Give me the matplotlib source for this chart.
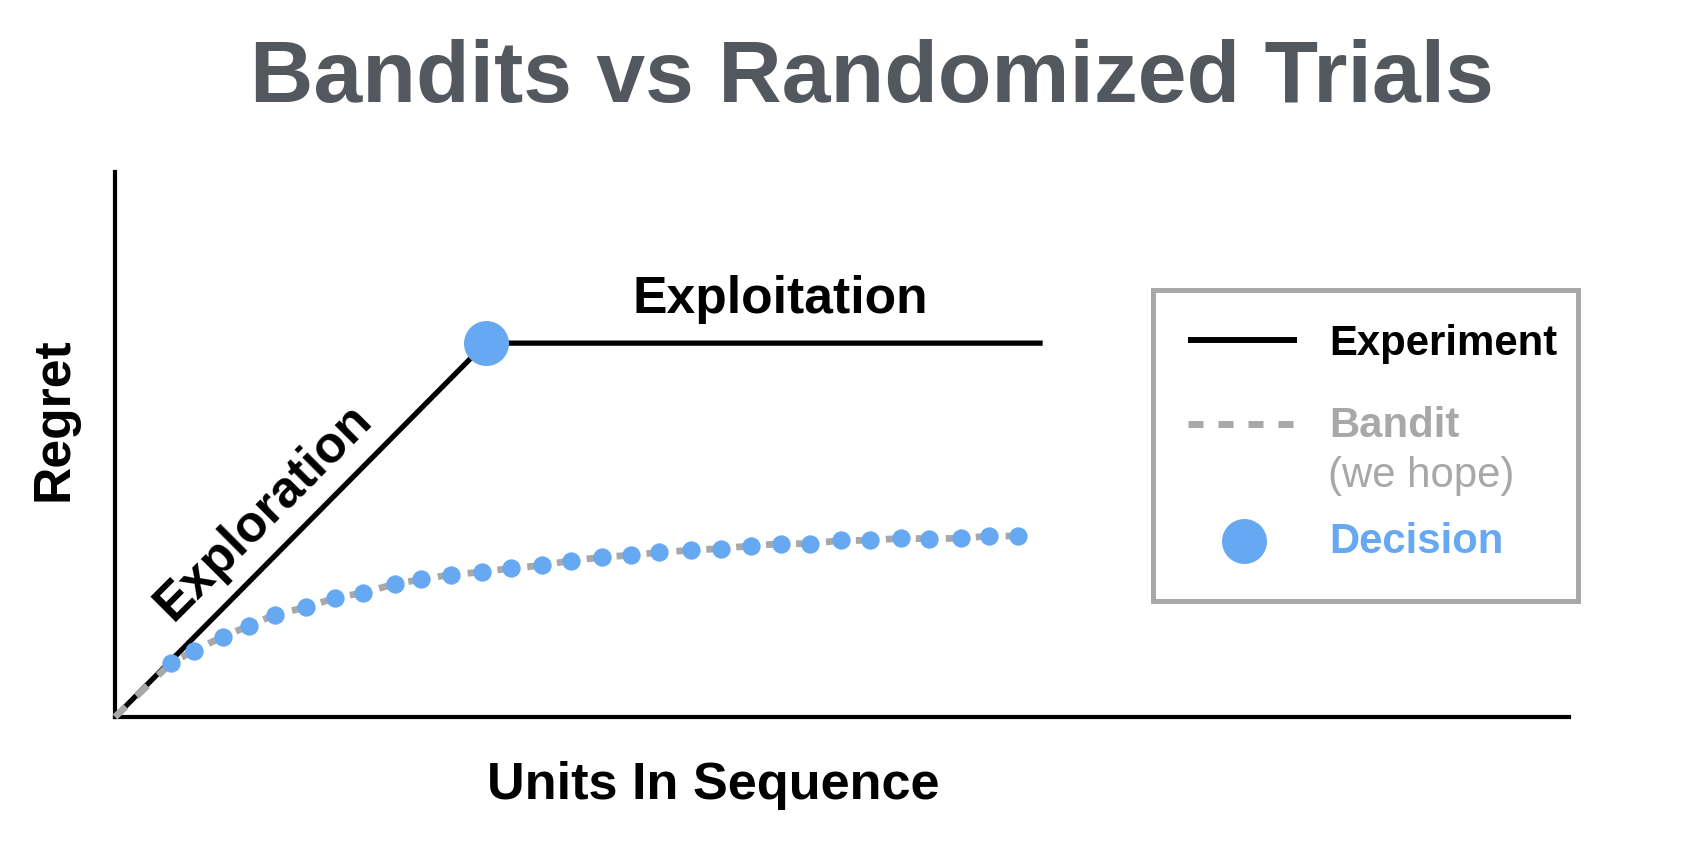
import matplotlib
matplotlib.use("Agg")
import matplotlib.pyplot as plt
from matplotlib.lines import Line2D
from matplotlib.patches import Rectangle

plt.rcParams['font.family'] = ['Liberation Sans', 'DejaVu Sans']
plt.rcParams['lines.scale_dashes'] = False

# ---- data (arbitrary units; axes span 0..100 on both axes) ----
experiment_x = [0, 25.5, 63.8]
experiment_y = [0, 68.6, 68.6]

decision_x = [25.5]
decision_y = [68.6]

bandit_x = [0, 3.83, 5.43, 7.41, 9.20, 10.98, 13.14, 15.11, 17.08, 19.24, 21.07,
            23.09, 25.24, 27.21, 29.37, 31.34, 33.49, 35.47, 37.41, 39.59, 41.66,
            43.72, 45.80, 47.80, 49.91, 51.93, 54.04, 55.98, 58.16, 60.11, 62.10]
bandit_y = [0, 9.85, 12.17, 14.73, 16.70, 18.77, 20.13, 21.83, 22.81, 24.40, 25.27,
            26.11, 26.6, 27.3, 27.8, 28.7, 29.3, 29.7, 30.2, 30.6, 30.9,
            31.4, 31.8, 31.8, 32.4, 32.4, 32.8, 32.7, 32.8, 33.2, 33.2]

title = "Bandits vs Randomized Trials"
xlabel = "Units In Sequence"
ylabel = "Regret"
legend_labels = ["Experiment", "Bandit", "(we hope)", "Decision"]

BLUE = '#66A8F2'
GRAY = '#A8A8A8'
TITLE_C = '#53575E'

W, H = 1682, 850
fig = plt.figure(figsize=(W / 100, H / 100), dpi=100)
fig.patch.set_facecolor('white')

def fx(px):
    return px / W

def fy(py):
    return 1 - py / H

ax = fig.add_axes([fx(115), fy(717), (1569 - 115) / W, (717 - 172) / H])
ax.set_xlim(0, 100)
ax.set_ylim(0, 100)
for s in ['top', 'right']:
    ax.spines[s].set_visible(False)
for s in ['left', 'bottom']:
    ax.spines[s].set_linewidth(3.0)
    ax.spines[s].set_color('black')
    ax.spines[s].set_capstyle('projecting')
ax.set_xticks([])
ax.set_yticks([])

# marks
ax.plot(experiment_x, experiment_y, color='black', lw=3.8, zorder=2,
        solid_capstyle='butt', clip_on=False)
ax.plot(bandit_x, bandit_y, color=GRAY, lw=4.9, dashes=(10.8, 10.8), zorder=3,
        dash_capstyle='butt', clip_on=False)
ax.plot(bandit_x[1:], bandit_y[1:], 'o', color=BLUE, ms=13.2, mec='none', zorder=4,
        clip_on=False)
ax.plot(decision_x, decision_y, 'o', color=BLUE, ms=32.4, mec='none', zorder=5,
        clip_on=False)

# annotations
ax.text(45.74, 74.13, "Exploitation", fontsize=37.2, fontweight='bold',
        ha='center', va='baseline', color='black')
ax.text(10.85, 35.75, "Exploration", fontsize=37.2, fontweight='bold',
        ha='center', va='baseline', rotation=45, rotation_mode='anchor', color='black')

# axis labels
ax.set_xlabel(xlabel, fontsize=37.6, fontweight='bold', va='baseline')
ax.xaxis.set_label_coords((713 - 115) / 1454, -(799 - 717) / 545)
ax.set_ylabel(ylabel, fontsize=37.2, fontweight='bold', va='baseline',
              rotation=90, rotation_mode='anchor', ha='center')
ax.yaxis.set_label_coords((68 - 115) / 1454, (717 - 419) / 545)

# title
fig.text(fx(872), fy(102), title, fontsize=63.2, fontweight='bold',
         ha='center', va='baseline', color=TITLE_C)

# legend (drawn manually)
fig.add_artist(Rectangle((fx(1152.5), fy(600.5)), (1577.5 - 1152.5) / W,
                         (600.5 - 289.5) / H, transform=fig.transFigure,
                         fill=False, edgecolor=GRAY, lw=3.6))
fig.add_artist(Line2D([fx(1188), fx(1297)], [fy(340), fy(340)],
                      transform=fig.transFigure, color='black', lw=4.3,
                      solid_capstyle='butt'))
fig.add_artist(Line2D([fx(1188), fx(1295)], [fy(424), fy(424)],
                      transform=fig.transFigure, color=GRAY, lw=5,
                      dashes=(10.8, 10.8), dash_capstyle='butt'))
fig.add_artist(Line2D([fx(1244)], [fy(541)], transform=fig.transFigure,
                      marker='o', color=BLUE, ms=32.4, mec='none', lw=0))
fig.text(fx(1329), fy(355), legend_labels[0], fontsize=30.2, fontweight='bold',
         color='black', ha='left', va='baseline')
fig.text(fx(1329), fy(437), legend_labels[1], fontsize=30.2, fontweight='bold',
         color=GRAY, ha='left', va='baseline')
fig.text(fx(1328), fy(487), legend_labels[2], fontsize=30.2, fontweight='normal',
         color=GRAY, ha='left', va='baseline')
fig.text(fx(1329), fy(553), legend_labels[3], fontsize=30.2, fontweight='bold',
         color=BLUE, ha='left', va='baseline')

fig.savefig('out.png', dpi=100, facecolor='white')
